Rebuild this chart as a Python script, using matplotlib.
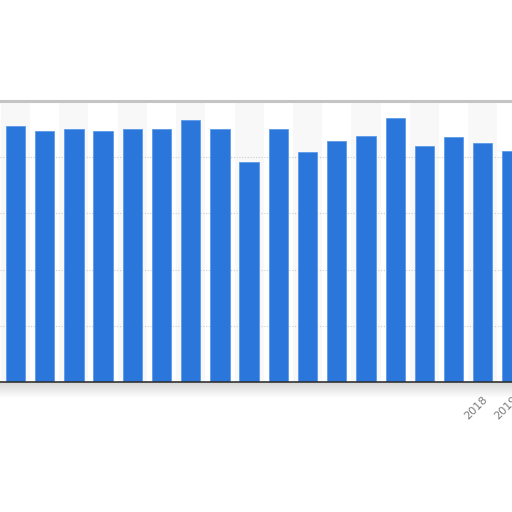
import matplotlib
matplotlib.use("Agg")
import matplotlib.pyplot as plt
import numpy as np

years = [str(y) for y in range(2002, 2020)]
values = [91.2, 89.2, 90.1, 89.2, 90.1, 90.1, 93.1, 90.1, 78.1, 90.1,
          81.9, 85.8, 87.5, 94.0, 84.0, 87.2, 85.0, 82.1]
visible_labels = ["2018", "2019"]
y_ticks = [0, 20, 40, 60, 80, 100]

BAR_COLOR = "#2a76db"
BAND_COLOR = "#f8f8f8"

fig = plt.figure(figsize=(5.12, 5.12), dpi=100)
fig.patch.set_facecolor("white")

# shadow strip beneath the plot (cut-out artefact)
sh = fig.add_axes([0, (512 - 398) / 512, 1, 16 / 512], zorder=0)
grad = np.linspace(0.84, 1.0, 50).reshape(-1, 1)
sh.imshow(np.dstack([grad, grad, grad]), aspect="auto", extent=[0, 1, 0, 1])
sh.set_axis_off()

bottom = (512 - 381.9) / 512
top = (512 - 100.9) / 512
ax = fig.add_axes([0, bottom, 1, top - bottom], zorder=1)
ax.set_facecolor("white")

x = np.arange(len(years))
for i in x:
    if i % 2 == 0:
        ax.axvspan(i - 0.5, i + 0.5, color=BAND_COLOR, zorder=0, lw=0)

ax.bar(x, values, width=0.66, color=BAR_COLOR, edgecolor="#5b9be8",
       linewidth=0.6, zorder=3)

ax.set_xlim(-0.53, 17.0)
ax.set_ylim(0, 100)
ax.set_yticks(y_ticks)
ax.yaxis.grid(True, linestyle=(0, (1, 1.5)), color="#cccccc", linewidth=0.8, zorder=1)
ax.tick_params(axis="y", left=False, labelleft=False)

ax.set_xticks(x)
ax.set_xticklabels(years, rotation=45, ha="right", rotation_mode="anchor",
                   fontsize=8, color="#7a7a7a")
for lab in ax.get_xticklabels():
    if lab.get_text() not in visible_labels:
        lab.set_visible(False)
ax.tick_params(axis="x", length=0, pad=9)

for s in ["left", "right"]:
    ax.spines[s].set_visible(False)
ax.spines["top"].set_color("#c4c4c4")
ax.spines["top"].set_linewidth(2.2)
ax.spines["bottom"].set_color("#333333")
ax.spines["bottom"].set_linewidth(1.2)
ax.spines["bottom"].set_zorder(4)

fig.savefig("out.png", dpi=100, facecolor="white")
